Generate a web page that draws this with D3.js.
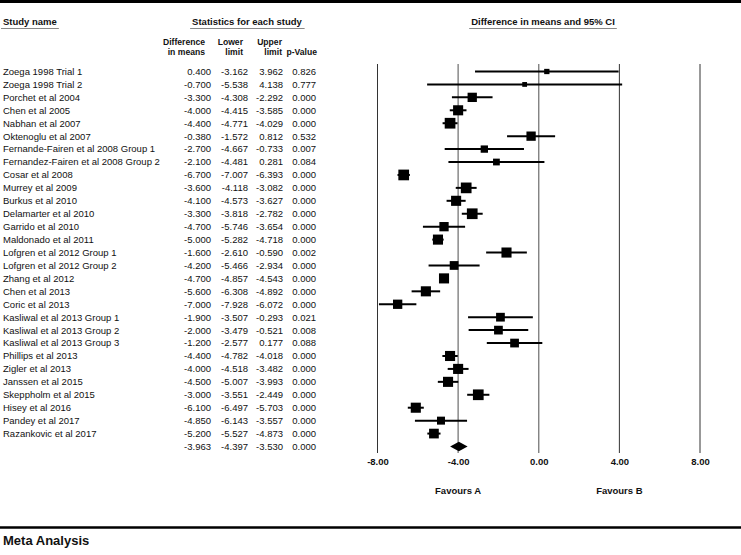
<!DOCTYPE html>
<html>
<head>
<meta charset="utf-8">
<script src="https://cdn.jsdelivr.net/npm/d3@7/dist/d3.min.js"></script>
<style>
  html, body { margin: 0; padding: 0; background: #fff; }
  svg { display: block; font-family: "Liberation Sans", Arial, sans-serif; }
</style>
</head>
<body>
<svg id="chart" width="741" height="555"></svg>
<script>
const studies = [
  "Zoega 1998 Trial 1", "Zoega 1998 Trial 2", "Porchet et al 2004", "Chen et al 2005",
  "Nabhan et al 2007", "Oktenoglu et al 2007", "Fernande-Fairen et al 2008 Group 1",
  "Fernandez-Fairen et al 2008 Group 2", "Cosar et al 2008", "Murrey et al 2009",
  "Burkus et al 2010", "Delamarter et al 2010", "Garrido et al 2010", "Maldonado et al 2011",
  "Lofgren et al 2012 Group 1", "Lofgren et al 2012 Group 2", "Zhang et al 2012",
  "Chen et al 2013", "Coric et al 2013", "Kasliwal et al 2013 Group 1",
  "Kasliwal et al 2013 Group 2", "Kasliwal et al 2013 Group 3", "Phillips et al 2013",
  "Zigler et al 2013", "Janssen et al 2015", "Skeppholm et al 2015", "Hisey et al 2016",
  "Pandey et al 2017", "Razankovic et al 2017"
];
const diffMeans = [0.400, -0.700, -3.300, -4.000, -4.400, -0.380, -2.700, -2.100, -6.700, -3.600,
  -4.100, -3.300, -4.700, -5.000, -1.600, -4.200, -4.700, -5.600, -7.000, -1.900,
  -2.000, -1.200, -4.400, -4.000, -4.500, -3.000, -6.100, -4.850, -5.200];
const lowerLimit = [-3.162, -5.538, -4.308, -4.415, -4.771, -1.572, -4.667, -4.481, -7.007, -4.118,
  -4.573, -3.818, -5.746, -5.282, -2.610, -5.466, -4.857, -6.308, -7.928, -3.507,
  -3.479, -2.577, -4.782, -4.518, -5.007, -3.551, -6.497, -6.143, -5.527];
const upperLimit = [3.962, 4.138, -2.292, -3.585, -4.029, 0.812, -0.733, 0.281, -6.393, -3.082,
  -3.627, -2.782, -3.654, -4.718, -0.590, -2.934, -4.543, -4.892, -6.072, -0.293,
  -0.521, 0.177, -4.018, -3.482, -3.993, -2.449, -5.703, -3.557, -4.873];
const pValues = [0.826, 0.777, 0.000, 0.000, 0.000, 0.532, 0.007, 0.084, 0.000, 0.000,
  0.000, 0.000, 0.000, 0.000, 0.002, 0.000, 0.000, 0.000, 0.000, 0.021,
  0.008, 0.088, 0.000, 0.000, 0.000, 0.000, 0.000, 0.000, 0.000];
// relative weights
const weights = [1.1, 0.9, 3.4, 4.0, 4.5, 3.4, 2.1, 1.8, 4.5, 4.5,
  4.0, 4.5, 3.4, 4.0, 4.0, 3.0, 4.0, 4.0, 3.4, 3.0,
  3.0, 3.0, 4.0, 4.0, 4.0, 4.5, 4.0, 2.5, 3.7];
const summaryDiff = -3.963, summaryLower = -4.397, summaryUpper = -3.530, summaryP = 0.000;
const tickValues = [-8, -4, 0, 4, 8];
const favourLabels = [{label: "Favours A", at: -4}, {label: "Favours B", at: 4}];

const svg = d3.select("#chart");
const W = 741;
const fmt3 = v => d3.format(".3f")(v).replace("\u2212", "-");
const fmt2 = v => d3.format(".2f")(v).replace("\u2212", "-");

const x = d3.scaleLinear().domain([-8, 8]).range([377.5, 700]);
const y = d3.scalePoint().domain(d3.range(studies.length + 1)).range([71.5, 446.5]);
const size = d3.scaleSqrt().domain([0, d3.max(weights)]).range([0, 10.7]);

// frame lines
svg.append("line").attr("x1", 0).attr("x2", W).attr("y1", 1.5).attr("y2", 1.5)
  .attr("stroke", "#000").attr("stroke-width", 3);
svg.append("line").attr("x1", 0).attr("x2", W).attr("y1", 527.5).attr("y2", 527.5)
  .attr("stroke", "#000").attr("stroke-width", 2.5);
svg.append("text").attr("x", 3).attr("y", 545).attr("font-size", 13).attr("font-weight", "bold")
  .attr("fill", "#111").text("Meta Analysis");

// headers
function header(txt, xPos, anchor) {
  const t = svg.append("text").attr("x", xPos).attr("y", 25).attr("font-size", 9.5)
    .attr("font-weight", "bold").attr("text-anchor", anchor).attr("fill", "#111").text(txt);
  const bb = t.node().getBBox();
  svg.append("line").attr("x1", bb.x - 2).attr("x2", bb.x + bb.width + 2)
    .attr("y1", 28.5).attr("y2", 28.5).attr("stroke", "#888").attr("stroke-width", 1);
}
header("Study name", 3, "start");
header("Statistics for each study", 247, "middle");
header("Difference in means and 95% CI", 543, "middle");

const colX = [211, 248, 283, 316];
const colHeads = [["Difference", "in means"], ["Lower", "limit"], ["Upper", "limit"], ["", "p-Value"]];
const headX = [205, 243, 282, 317];
colHeads.forEach((h, i) => {
  h.forEach((line, j) => {
    svg.append("text").attr("x", headX[i]).attr("y", 45 + j * 10).attr("font-size", 8.6)
      .attr("font-weight", "bold").attr("text-anchor", "end").attr("fill", "#111").text(line);
  });
});

// table rows
const rows = svg.append("g").attr("font-size", 9.5).attr("fill", "#111");
studies.forEach((s, i) => {
  const yy = y(i) + 3.4;
  rows.append("text").attr("x", 3).attr("y", yy).text(s);
  [diffMeans[i], lowerLimit[i], upperLimit[i], pValues[i]].forEach((v, k) => {
    rows.append("text").attr("x", colX[k]).attr("y", yy).attr("text-anchor", "end").text(fmt3(v));
  });
});
{
  const yy = y(studies.length) + 3.4;
  [summaryDiff, summaryLower, summaryUpper, summaryP].forEach((v, k) => {
    rows.append("text").attr("x", colX[k]).attr("y", yy).attr("text-anchor", "end").text(fmt3(v));
  });
}

// grid lines
const gridTop = 64, gridBottom = 453;
svg.append("g").selectAll("line").data(tickValues).join("line")
  .attr("x1", d => x(d)).attr("x2", d => x(d))
  .attr("y1", gridTop).attr("y2", gridBottom)
  .attr("stroke", d => (d === -4 || d === 0) ? "#777" : "#333")
  .attr("stroke-width", d => (d === -4 || d === 0) ? 1.3 : 1);

// axis labels
const axis = d3.axisBottom(x).tickValues(tickValues).tickSize(0).tickPadding(0)
  .tickFormat(fmt2);
const ag = svg.append("g").attr("transform", `translate(0,${gridBottom + 5})`).call(axis);
ag.select(".domain").remove();
ag.selectAll("text").attr("font-size", 9.5).attr("font-weight", "bold")
  .attr("font-family", "'Liberation Sans', Arial, sans-serif").attr("fill", "#111");

// favours labels
svg.append("g").selectAll("text").data(favourLabels).join("text")
  .attr("x", d => x(d.at)).attr("y", 494).attr("text-anchor", "middle")
  .attr("font-size", 9.5).attr("font-weight", "bold").attr("fill", "#111").text(d => d.label);

// CI lines and markers
const g = svg.append("g");
g.selectAll("line.ci").data(studies).join("line").attr("class", "ci")
  .attr("x1", (d, i) => x(lowerLimit[i])).attr("x2", (d, i) => x(upperLimit[i]))
  .attr("y1", (d, i) => y(i)).attr("y2", (d, i) => y(i))
  .attr("stroke", "#000").attr("stroke-width", 2);
g.selectAll("rect.box").data(studies).join("rect").attr("class", "box")
  .attr("x", (d, i) => x(diffMeans[i]) - size(weights[i]) / 2)
  .attr("y", (d, i) => y(i) - size(weights[i]) / 2)
  .attr("width", (d, i) => size(weights[i]))
  .attr("height", (d, i) => size(weights[i]))
  .attr("fill", "#000");

// summary diamond
const yS = y(studies.length);
g.append("path")
  .attr("d", `M${x(summaryLower)},${yS} L${x(summaryDiff)},${yS - 4.7} L${x(summaryUpper)},${yS} L${x(summaryDiff)},${yS + 4.7} Z`)
  .attr("fill", "#000");
</script>
</body>
</html>
